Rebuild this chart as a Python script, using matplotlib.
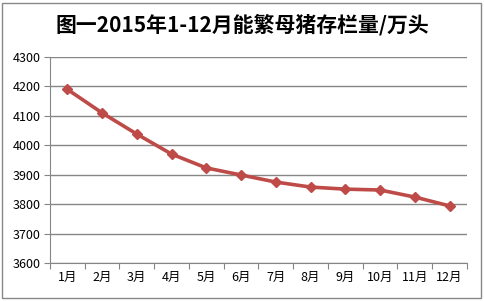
"""Breeding sow inventory, Jan-Dec 2015 (line chart)."""

import matplotlib
matplotlib.use("Agg")
from matplotlib import pyplot as plt
from matplotlib.patches import Rectangle
import numpy as np

plt.rcParams["font.family"] = ["Noto Sans CJK SC", "DejaVu Sans"]

months = ["1月", "2月", "3月", "4月", "5月", "6月",
          "7月", "8月", "9月", "10月", "11月", "12月"]
inventory = [4190, 4110, 4038, 3970, 3923, 3899,
             3875, 3858, 3851, 3848, 3824, 3794]
y_ticks = [3600, 3700, 3800, 3900, 4000, 4100, 4200, 4300]
title = "图一2015年1-12月能繁母猪存栏量/万头"

grid_color = "#868686"
line_color = "#be4b48"

fig = plt.figure(figsize=(4.85, 3.01), dpi=100)
ax = fig.add_axes([50 / 485, 1 - 263 / 301, 417 / 485, 206 / 301])

x = np.arange(len(months))
ax.plot(x, inventory, color=line_color, lw=2.6, marker="D", ms=5.5,
        mfc=line_color, mec=line_color, zorder=3)

ax.set_xlim(-0.5, len(months) - 0.5)
ax.set_ylim(y_ticks[0], y_ticks[-1])
ax.set_yticks(y_ticks)
ax.set_yticklabels([str(v) for v in y_ticks], fontsize=9)

# category boundaries carry the tick marks, labels sit at the centres
ax.set_xticks(np.arange(len(months) + 1) - 0.5)
ax.set_xticklabels([])
ax.set_xticks(x, minor=True)
ax.set_xticklabels(months, minor=True, fontsize=9)
ax.tick_params(axis="x", which="major", length=4, color=grid_color, direction="out")
ax.tick_params(axis="x", which="minor", length=0, pad=6)
ax.tick_params(axis="y", length=4, color=grid_color, direction="out", pad=3)

ax.grid(axis="y", color=grid_color, lw=1)
ax.set_axisbelow(True)
for side in ["top", "right"]:
    ax.spines[side].set_visible(False)
for side in ["left", "bottom"]:
    ax.spines[side].set_color(grid_color)

fig.text(0.5, 1 - 25 / 301, title, ha="center", va="center",
         fontsize=15, fontweight="bold")

# outer chart frame
fig.patches.append(Rectangle((2 / 485, 3 / 301), 479 / 485, 295 / 301,
                             transform=fig.transFigure, fill=False,
                             edgecolor="#888888", lw=1))

fig.savefig("out.png", dpi=100)
plt.close(fig)
